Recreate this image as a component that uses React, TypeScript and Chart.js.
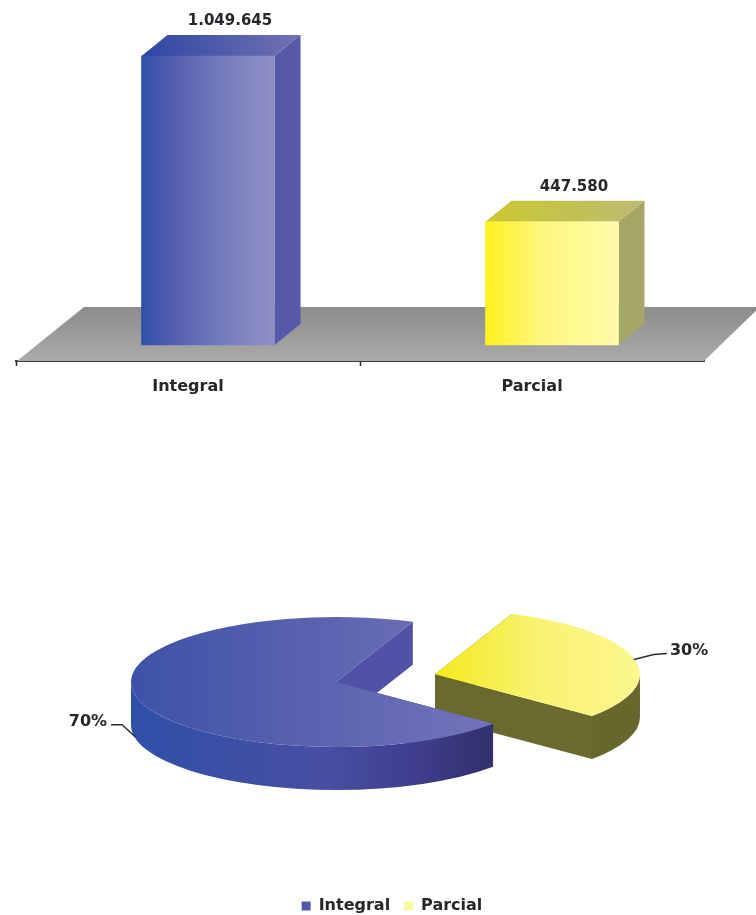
import React, { useEffect, useRef } from "react";
import { Chart, registerables } from "chart.js";

Chart.register(...registerables);

const categories = ["Integral", "Parcial"];
const totals = [1049645, 447580];
const shares = [70, 30];

const FONT = "'DejaVu Sans', sans-serif";
const INK = "#26262b";
const LABEL_SPACING = "1px";

// Bar extrusion and placement
const BAR_WIDTH = 133;
const BAR_SHIFT = 20;
const DEPTH_X = 26;
const DEPTH_Y = 21;

// Ellipse projection of the pie, in canvas pixels
const PIE_CX = 308;
const PIE_CY = 262;
const PIE_SQUASH = 0.317;
const PIE_HEIGHT = 43;

const formatTotal = (v: number) => String(v).replace(/\B(?=(\d{3})+(?!\d))/g, ".");

function linear(ctx: CanvasRenderingContext2D, x0: number, x1: number, stops: [number, string][]) {
  const g = ctx.createLinearGradient(x0, 0, x1, 0);
  stops.forEach(([o, c]) => g.addColorStop(o, c));
  return g;
}

const barFaces = [
  {
    front: [[0, "#2f50a8"], [0.25, "#5660b0"], [0.7, "#7c82bf"], [1, "#8f8fc6"]] as [number, string][],
    top: [[0, "#2e46a4"], [1, "#7272b2"]] as [number, string][],
    side: "#5658a9",
  },
  {
    front: [[0, "#fff01e"], [0.4, "#fdf77a"], [1, "#fffbac"]] as [number, string][],
    top: [[0, "#c9c82f"], [1, "#bcbc72"]] as [number, string][],
    side: "#a6a666",
  },
];

const spacingPlugin = {
  id: "labelSpacing",
  beforeInit(chart: any) {
    chart.ctx.letterSpacing = LABEL_SPACING;
  },
};

const barScene = {
  id: "barScene",
  beforeDatasetsDraw(chart: any) {
    const { ctx } = chart;
    const bottom = chart.chartArea.bottom;

    // Grey floor under the bars
    const floor = ctx.createLinearGradient(0, 307, 0, bottom);
    floor.addColorStop(0, "#8c8c8e");
    floor.addColorStop(1, "#aaaaaa");
    ctx.fillStyle = floor;
    ctx.beginPath();
    ctx.moveTo(84, 307);
    ctx.lineTo(760, 307);
    ctx.lineTo(704, bottom);
    ctx.lineTo(17, bottom);
    ctx.closePath();
    ctx.fill();

    // Top and side faces of each bar
    chart.getDatasetMeta(0).data.forEach((bar: any, i: number) => {
      const l = bar.x - bar.width / 2 + BAR_SHIFT;
      const r = l + bar.width;
      const t = bar.y;
      const b = bar.base;
      const faces = barFaces[i];
      ctx.fillStyle = linear(ctx, l, r + DEPTH_X, faces.top);
      ctx.beginPath();
      ctx.moveTo(l, t);
      ctx.lineTo(l + DEPTH_X, t - DEPTH_Y);
      ctx.lineTo(r + DEPTH_X, t - DEPTH_Y);
      ctx.lineTo(r, t);
      ctx.closePath();
      ctx.fill();
      ctx.fillStyle = faces.side;
      ctx.beginPath();
      ctx.moveTo(r, t);
      ctx.lineTo(r + DEPTH_X, t - DEPTH_Y);
      ctx.lineTo(r + DEPTH_X, b - DEPTH_Y);
      ctx.lineTo(r, b);
      ctx.closePath();
      ctx.fill();
    });

    ctx.save();
    ctx.translate(BAR_SHIFT, 0);
  },
  afterDatasetsDraw(chart: any) {
    const { ctx } = chart;
    ctx.restore();
    ctx.fillStyle = INK;
    ctx.font = `bold 15px ${FONT}`;
    ctx.textAlign = "center";
    ctx.textBaseline = "middle";
    chart.getDatasetMeta(0).data.forEach((bar: any, i: number) => {
      ctx.fillText(formatTotal(totals[i]), bar.x + BAR_SHIFT + 22, bar.y - 35);
    });
  },
};

function slicePath(ctx: CanvasRenderingContext2D, cx: number, cy: number, rx: number, ry: number, a0: number, a1: number) {
  ctx.beginPath();
  ctx.moveTo(cx, cy);
  ctx.ellipse(cx, cy, rx, ry, 0, a0, a1);
  ctx.closePath();
}

const sliceStyles = [
  {
    top: [[0, "#3c52a8"], [0.5, "#5a62ae"], [1, "#7274ba"]] as [number, string][],
    rim: [[0, "#2f4fa8"], [0.55, "#484fa2"], [0.8, "#3e3e8c"], [1, "#33316e"]] as [number, string][],
    wall: "#5052a6",
  },
  {
    top: [[0, "#f3ea1c"], [0.5, "#f8f272"], [1, "#fbf78e"]] as [number, string][],
    rim: [[0, "#6b6b30"], [1, "#66662d"]] as [number, string][],
    wall: "#6a6a30",
  },
];

const pieScene = {
  id: "pieScene",
  // The arcs are projected onto a tilted plane here instead of being drawn flat
  beforeDatasetDraw(chart: any) {
    const { ctx } = chart;
    const arcs = chart.getDatasetMeta(0).data;
    // Parcial first: the Integral slice overlaps it
    [1, 0].forEach((i) => {
      const arc = arcs[i];
      const { startAngle: a0, endAngle: a1, outerRadius: rx } = arc;
      const ry = rx * PIE_SQUASH;
      const mid = (a0 + a1) / 2;
      const off = arc.options.offset || 0;
      const cx = PIE_CX + Math.cos(mid) * off;
      const cy = PIE_CY + Math.sin(mid) * off * PIE_SQUASH;
      const style = sliceStyles[i];

      // Cut faces
      ctx.fillStyle = style.wall;
      [a0, a1].forEach((a) => {
        const px = cx + Math.cos(a) * rx;
        const py = cy + Math.sin(a) * ry;
        ctx.beginPath();
        ctx.moveTo(cx, cy);
        ctx.lineTo(px, py);
        ctx.lineTo(px, py + PIE_HEIGHT);
        ctx.lineTo(cx, cy + PIE_HEIGHT);
        ctx.closePath();
        ctx.fill();
      });

      // Outer rim on the part of the arc facing the viewer
      ctx.fillStyle = linear(ctx, PIE_CX - rx, cx + rx * 0.73, style.rim);
      for (const k of [0, 2]) {
        const from = Math.max(a0, k * Math.PI);
        const to = Math.min(a1, (k + 1) * Math.PI);
        if (to <= from) continue;
        ctx.beginPath();
        ctx.ellipse(cx, cy, rx, ry, 0, from, to);
        ctx.ellipse(cx, cy + PIE_HEIGHT, rx, ry, 0, to, from, true);
        ctx.closePath();
        ctx.fill();
      }

      // Upper surface
      ctx.fillStyle = linear(ctx, cx - (i === 0 ? rx : 0), cx + rx * (i === 0 ? 0.73 : 1), style.top);
      slicePath(ctx, cx, cy, rx, ry, a0, a1);
      ctx.fill();
    });
    return false;
  },
  afterDraw(chart: any) {
    const { ctx } = chart;
    const arcs = chart.getDatasetMeta(0).data;
    const total = shares.reduce((s, v) => s + v, 0);
    ctx.strokeStyle = "#2b2b2b";
    ctx.lineWidth = 1.4;
    ctx.fillStyle = INK;
    ctx.font = `bold 16px ${FONT}`;
    ctx.textBaseline = "middle";

    // Leader lines and percentage labels, anchored at each slice's middle angle
    const anchor = (i: number, drop: number) => {
      const arc = arcs[i];
      const mid = (arc.startAngle + arc.endAngle) / 2;
      const off = arc.options.offset || 0;
      return [
        PIE_CX + Math.cos(mid) * (off + arc.outerRadius),
        PIE_CY + Math.sin(mid) * (off + arc.outerRadius) * PIE_SQUASH + drop,
      ];
    };

    const [lx, ly] = anchor(0, 39);
    ctx.beginPath();
    ctx.moveTo(lx - 2, ly);
    ctx.lineTo(lx - 15, ly - 12);
    ctx.lineTo(lx - 26, ly - 12);
    ctx.stroke();
    ctx.textAlign = "right";
    ctx.fillText(`${Math.round((shares[0] / total) * 100)}%`, lx - 30, ly - 15);

    const [rx, ry] = anchor(1, 0);
    ctx.beginPath();
    ctx.moveTo(rx, ry + 1);
    ctx.lineTo(rx + 20, ry - 4);
    ctx.lineTo(rx + 33, ry - 5);
    ctx.stroke();
    ctx.textAlign = "left";
    ctx.fillText(`${Math.round((shares[1] / total) * 100)}%`, rx + 36, ry - 8);
  },
};

export default function App() {
  const barRef = useRef<HTMLCanvasElement>(null);
  const pieRef = useRef<HTMLCanvasElement>(null);

  useEffect(() => {
    const bars = new Chart(barRef.current!, {
      type: "bar",
      data: {
        labels: categories,
        datasets: [
          {
            data: totals,
            barThickness: BAR_WIDTH,
            backgroundColor: (c: any) => {
              const l = c.chart.scales.x.getPixelForTick(c.dataIndex) - BAR_WIDTH / 2;
              return linear(c.chart.ctx, l, l + BAR_WIDTH, barFaces[c.dataIndex].front);
            },
          },
        ],
      },
      options: {
        responsive: false,
        animation: false,
        events: [],
        layout: { padding: { left: 16, right: 52, top: 0, bottom: 0 } },
        plugins: { legend: { display: false }, tooltip: { enabled: false } },
        scales: {
          y: { display: false, min: -58100, max: 1253000 },
          x: {
            afterFit: (s: any) => {
              s.height = 59;
            },
            border: { display: true, color: "#3a3a3a", width: 2 },
            grid: {
              drawOnChartArea: false,
              tickLength: 5,
              tickWidth: 1.5,
              // Only the ticks between categories and at the left end are drawn
              tickColor: (c: any) => (c.index === undefined ? "transparent" : "#2b2b2b"),
            },
            ticks: { color: INK, padding: 11, maxRotation: 0, font: { family: FONT, size: 16, weight: "bold" } },
          },
        },
      },
      plugins: [spacingPlugin, barScene],
    } as any);

    const pie = new Chart(pieRef.current!, {
      type: "pie",
      data: {
        labels: categories,
        datasets: [
          {
            data: shares,
            backgroundColor: ["#5656a6", "#f8f8a0"],
            offset: [0, 102],
            borderWidth: 0,
          },
        ],
      },
      options: {
        responsive: false,
        animation: false,
        events: [],
        rotation: 130,
        radius: 205,
        layout: { padding: 0 },
        plugins: {
          tooltip: { enabled: false },
          legend: {
            position: "bottom",
            labels: {
              color: INK,
              boxWidth: 9,
              boxHeight: 9,
              padding: 14,
              font: { family: FONT, size: 16, weight: "bold" },
            },
          },
        },
      },
      plugins: [spacingPlugin, pieScene],
    } as any);

    return () => {
      bars.destroy();
      pie.destroy();
    };
  }, []);

  return (
    <div style={{ position: "absolute", left: 0, top: 0, width: 756, height: 915, background: "#fff", overflow: "hidden" }}>
      <canvas ref={barRef} width={756} height={420} style={{ position: "absolute", left: 0, top: 0 }} />
      <canvas ref={pieRef} width={728} height={504} style={{ position: "absolute", left: 28, top: 420 }} />
    </div>
  );
}
